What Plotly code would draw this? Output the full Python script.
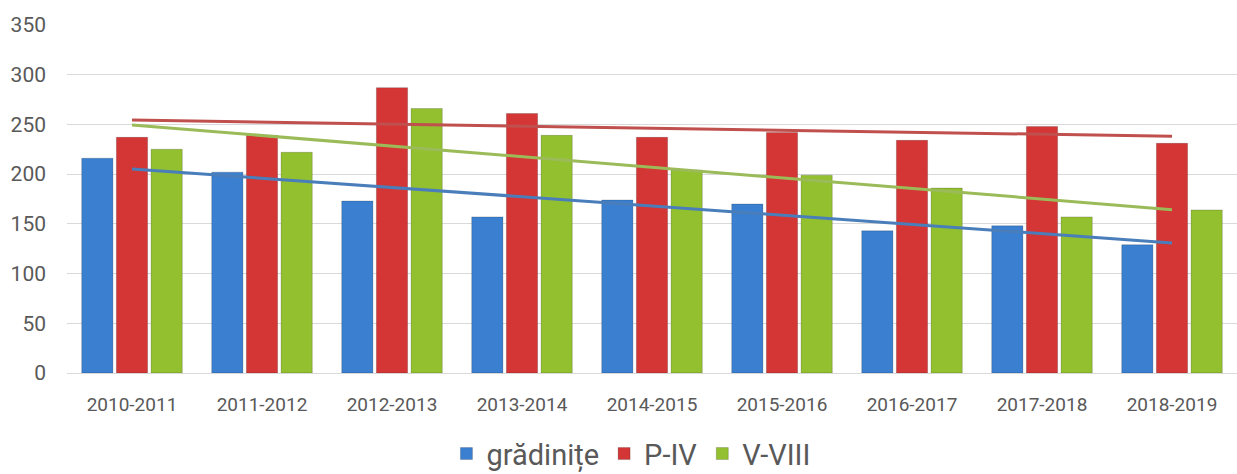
import numpy as np
import plotly.graph_objects as go

categories = ["2010-2011", "2011-2012", "2012-2013", "2013-2014", "2014-2015",
              "2015-2016", "2016-2017", "2017-2018", "2018-2019"]
gradinite = [216, 202, 173, 157, 174, 170, 143, 148, 129]
p_iv = [237, 239, 287, 261, 237, 242, 234, 248, 231]
v_viii = [225, 222, 266, 239, 204, 199, 186, 157, 164]
y_ticks = [0, 50, 100, 150, 200, 250, 300, 350]

series = [
    ("grădinițe", gradinite, "#3a7fd0", "#4a7ebb"),
    ("P-IV", p_iv, "#d43535", "#c0504d"),
    ("V-VIII", v_viii, "#93c02f", "#9bbb59"),
]

fig = go.Figure()
for name, vals, col, _ in series:
    fig.add_trace(go.Bar(
        x=categories, y=vals, name=name,
        marker=dict(color=col, line=dict(color="rgba(0,0,0,0.18)", width=1)),
    ))

idx = np.arange(len(categories))
for name, vals, _, tcol in series:
    slope, icpt = np.polyfit(idx, np.array(vals, dtype=float), 1)
    trend = slope * idx + icpt
    fig.add_trace(go.Scatter(
        x=categories, y=trend, mode="lines", showlegend=False,
        line=dict(color=tcol, width=3), hoverinfo="skip",
    ))

fig.update_layout(
    width=1237, height=474,
    barmode="group", bargap=0.2, bargroupgap=0.1,
    plot_bgcolor="white", paper_bgcolor="white",
    margin=dict(l=67, r=0, t=25, b=101, autoexpand=False),
    font=dict(family="Roboto, Noto Sans, sans-serif", color="#595959"),
    xaxis=dict(tickfont=dict(size=19, color="#595959"), showgrid=False,
               showline=True, linecolor="#d9d9d9", linewidth=1, ticks="",
               ticklabelstandoff=14),
    yaxis=dict(range=[0, 350], tickvals=y_ticks, tickfont=dict(size=21, color="#595959"),
               gridcolor="#d9d9d9", gridwidth=1, zeroline=False, ticks="",
               ticklabelstandoff=20),
    legend=dict(orientation="h", x=0.482, xanchor="center",
                y=-0.232, yanchor="middle",
                font=dict(size=29, color="#595959"), itemwidth=30,
                traceorder="normal"),
)

fig.write_html("out.html", config={"displayModeBar": False},
               post_script="document.body.style.margin='0';document.body.style.overflow='hidden';")
